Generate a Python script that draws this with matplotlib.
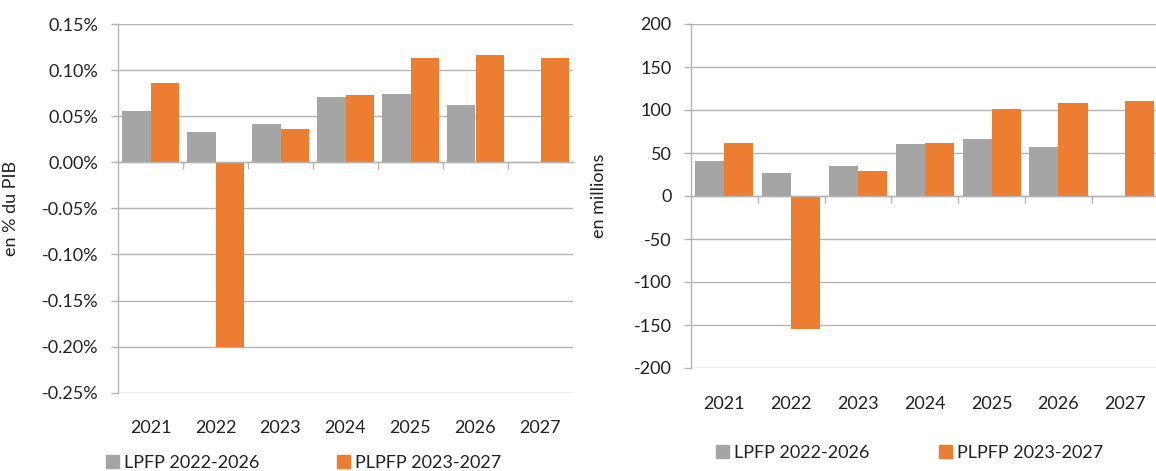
import numpy as np
import matplotlib.pyplot as plt
from matplotlib.patches import Patch
from matplotlib.ticker import FuncFormatter

plt.rcParams['font.family'] = ['Lato', 'DejaVu Sans']

# Données
annees = ['2021', '2022', '2023', '2024', '2025', '2026', '2027']
lpfp_pib = [0.056, 0.033, 0.042, 0.071, 0.074, 0.0625, np.nan]
plpfp_pib = [0.0857, -0.200, 0.0365, 0.0733, 0.1134, 0.1167, 0.1134]
lpfp_mds = [40.3, 26.4, 34.9, 60.8, 66.3, 57.3, np.nan]
plpfp_mds = [61.6, -155.0, 29.4, 61.6, 100.8, 107.8, 110.5]

serie_noms = ['LPFP 2022-2026', 'PLPFP 2023-2027']
gris = '#A5A5A5'
orange = '#ED7D31'
grille = '#B4B4B4'
W, H = 1156, 471

fig = plt.figure(figsize=(W / 100, H / 100), dpi=100)

def px(x0, y0, x1, y1):
    return [x0 / W, 1 - y1 / H, (x1 - x0) / W, (y1 - y0) / H]

ax1 = fig.add_axes(px(118, 24, 573, 392.7))
ax2 = fig.add_axes(px(691, 24, 1158.7, 368))

def fmt_pct(v, p):
    v = 0.0 if abs(v) < 1e-9 else v
    return f'{v:.2f}%'

def fmt_int(v, p):
    v = 0.0 if abs(v) < 1e-9 else v
    return f'{v:.0f}'

def dessiner(ax, v1, v2, yticks, fmt, ylabel, label_x):
    x = np.arange(len(annees))
    bw = 0.435
    ax.bar(x - bw / 2, v1, bw, color=gris, zorder=3)
    ax.bar(x + bw / 2, v2, bw, color=orange, zorder=3)
    ax.set_xlim(-0.5, len(annees) - 0.5)
    ax.set_ylim(yticks[0], yticks[-1])
    ax.set_yticks(yticks)
    ax.yaxis.set_major_formatter(FuncFormatter(fmt))
    ax.grid(axis='y', color=grille, lw=1.0, zorder=0)
    ax.tick_params(axis='y', length=5, width=1.0, color=grille, pad=9,
                   labelsize=13, labelcolor='#222222')
    for s in ['top', 'right']:
        ax.spines[s].set_visible(False)
    ax.spines['left'].set_color(grille)
    ax.spines['left'].set_linewidth(1.0)
    # axe horizontal à zéro, marques entre les catégories
    ax.spines['bottom'].set_position(('data', 0))
    ax.spines['bottom'].set_color(grille)
    ax.spines['bottom'].set_linewidth(1.0)
    ax.spines['bottom'].set_zorder(4)
    ax.set_xticks(x[:-1] + 0.5)
    ax.set_xticklabels([])
    ax.tick_params(axis='x', length=5, width=1.0, color=grille)
    sec = ax.secondary_xaxis('bottom')
    sec.set_xticks(x)
    sec.set_xticklabels(annees)
    sec.tick_params(length=0, pad=20, labelsize=13, labelcolor='#222222')
    sec.spines['bottom'].set_visible(False)
    ax.set_ylabel(ylabel, fontsize=13, color='#222222')
    ax.yaxis.set_label_coords(label_x, 0.5)

dessiner(ax1, lpfp_pib, plpfp_pib, np.round(np.arange(-0.25, 0.151, 0.05), 2),
         fmt_pct, 'en % du PIB', -0.218)
dessiner(ax2, lpfp_mds, plpfp_mds, np.arange(-200, 201, 50),
         fmt_int, 'en millions', -0.18)

handles = [Patch(color=gris, label=serie_noms[0]), Patch(color=orange, label=serie_noms[1])]
for (lx, ly, cs) in [(106, 463, 4.3), (716, 453, 3.85)]:
    fig.legend(handles=handles, loc='center left', bbox_to_anchor=(lx / W, 1 - ly / H),
               ncol=2, frameon=False, fontsize=13, handlelength=0.7, handleheight=0.7,
               handletextpad=0.3, columnspacing=cs, borderpad=0, borderaxespad=0,
               labelcolor='#222222')

fig.savefig('out.png', dpi=100)
